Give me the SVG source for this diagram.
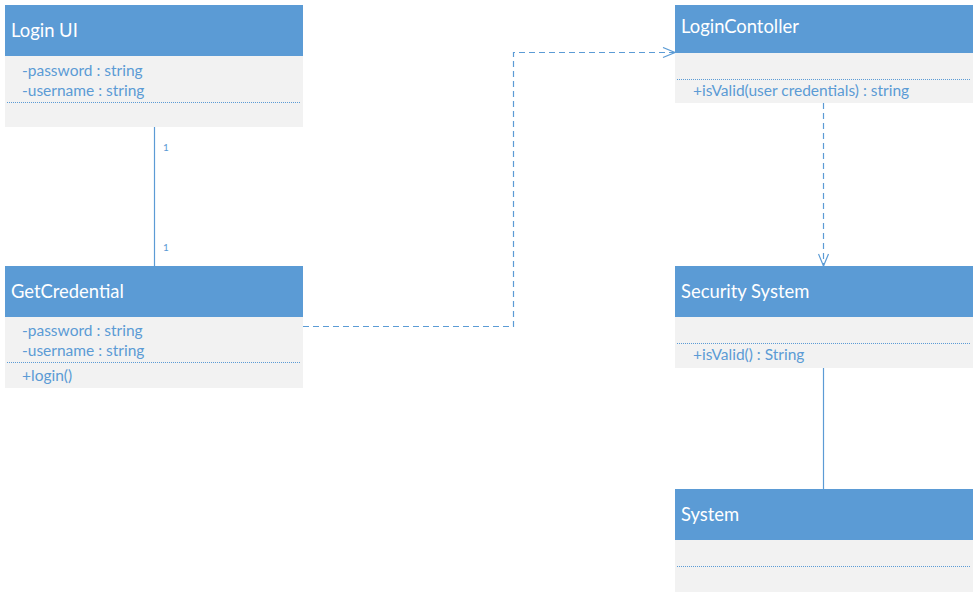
<svg xmlns="http://www.w3.org/2000/svg" width="975" height="593" viewBox="0 0 975 593">
<style>
.hdr{fill:#5B9BD5}
.body{fill:#F2F2F2}
.title{font-family:Lato,"Liberation Sans",sans-serif;font-size:18.4px;fill:#FFFFFF}
.item{font-family:Lato,"Liberation Sans",sans-serif;font-size:15.5px;fill:#5B9BD5}
.sep{stroke:#5B9BD5;stroke-width:1;stroke-dasharray:1 1;fill:none}
.conn{stroke:#5B9BD5;stroke-width:1.2;fill:none}
.dash{stroke-dasharray:6 4}
.mult{font-family:Lato,"Liberation Sans",sans-serif;font-size:10px;fill:#5B9BD5}
</style>
<defs>
<marker id="open" markerWidth="14" markerHeight="12" refX="13" refY="6" orient="auto" markerUnits="userSpaceOnUse">
<path d="M1,1 L13,6 L1,11" fill="none" stroke="#5B9BD5" stroke-width="1.2"/>
</marker>
</defs>
<rect width="975" height="593" fill="#FFFFFF"/>
<g id="connectors">
<line class="conn" x1="154.5" y1="127" x2="154.5" y2="266"/>
<text class="mult" x="163" y="151">1</text>
<text class="mult" x="163" y="251">1</text>
<path class="conn dash" d="M303,326.5 H513.5 V52.5 H675" marker-end="url(#open)"/>
<path class="conn dash" d="M823.5,103 V266" marker-end="url(#open)"/>
<line class="conn" x1="823.5" y1="368" x2="823.5" y2="489"/>
</g>
<g id="login-ui">
<rect class="body" x="5" y="56" width="298" height="71"/>
<rect class="hdr" x="5" y="5" width="298" height="51"/>
<text class="title" x="11" y="37">Login UI</text>
<text class="item" x="22" y="76">-password : string</text>
<text class="item" x="22" y="96">-username : string</text>
<line class="sep" x1="7" y1="102.5" x2="301" y2="102.5"/>
</g>
<g id="get-credential">
<rect class="body" x="5" y="317" width="298" height="71"/>
<rect class="hdr" x="5" y="266" width="298" height="51"/>
<text class="title" x="11" y="298">GetCredential</text>
<text class="item" x="22" y="336">-password : string</text>
<text class="item" x="22" y="356">-username : string</text>
<line class="sep" x1="7" y1="362.5" x2="301" y2="362.5"/>
<text class="item" x="22" y="381">+login()</text>
</g>
<g id="login-controller">
<rect class="body" x="675" y="53" width="298" height="50"/>
<rect class="hdr" x="675" y="5" width="298" height="48"/>
<text class="title" x="681" y="33">LoginContoller</text>
<line class="sep" x1="677" y1="79.5" x2="971" y2="79.5"/>
<text class="item" x="693" y="96">+isValid(user credentials) : string</text>
</g>
<g id="security-system">
<rect class="body" x="675" y="317" width="298" height="51"/>
<rect class="hdr" x="675" y="266" width="298" height="51"/>
<text class="title" x="681" y="298">Security System</text>
<line class="sep" x1="677" y1="343.5" x2="971" y2="343.5"/>
<text class="item" x="693" y="360">+isValid() : String</text>
</g>
<g id="system">
<rect class="body" x="675" y="540" width="298" height="52"/>
<rect class="hdr" x="675" y="489" width="298" height="51"/>
<text class="title" x="681" y="521">System</text>
<line class="sep" x1="677" y1="566.5" x2="971" y2="566.5"/>
</g>
</svg>
